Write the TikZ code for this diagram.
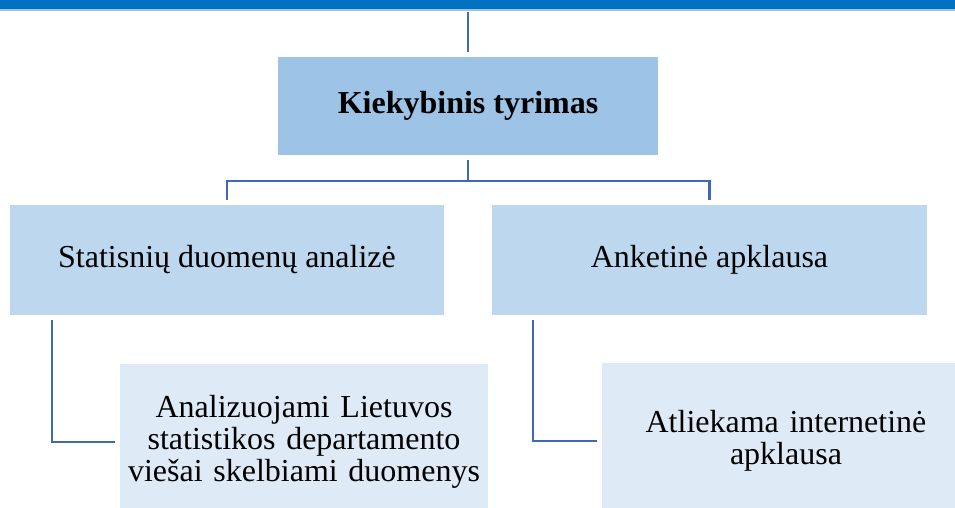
\documentclass[tikz,border=0pt]{standalone}
\usepackage{fontspec}
\setmainfont{Liberation Serif}
\definecolor{barblue}{HTML}{0070C0}
\definecolor{barlight}{HTML}{9DC3E6}
\definecolor{boxA}{HTML}{9DC3E6}
\definecolor{boxB}{HTML}{BDD7EE}
\definecolor{boxC}{HTML}{DEEBF7}
\definecolor{connblue}{HTML}{4068B8}
\tikzset{
  boxbase/.style={draw=none, inner sep=0pt, outer sep=3.75pt, align=center,
    font=\fontsize{24}{24}\selectfont},
  toplevel/.style={boxbase, fill=boxA, minimum width=285pt, minimum height=73.5pt, font=\fontsize{24}{24}\selectfont\bfseries},
  midlevel/.style={boxbase, fill=boxB, minimum height=82.5pt},
  lowlevel/.style={boxbase, fill=boxC, minimum width=276pt, minimum height=117pt, text width=270pt},
  conn/.style={draw=connblue, line width=2pt}
}
\begin{document}
\begin{tikzpicture}[x=0.75pt, y=-0.75pt]
\path[use as bounding box, clip] (0,0) rectangle (955,507);
\fill[white] (0,0) rectangle (955,507);
\fill[barblue] (0,0) rectangle (955,9);
\fill[barlight] (0,9) rectangle (955,10.5);

\node[toplevel] (top) at (468,106) {Kiekybinis tyrimas};
\node[midlevel, minimum width=325.5pt] (left) at (227,260) {Statisnių duomenų analizė};
\node[midlevel, minimum width=326.25pt] (right) at (709.5,260) {Anketinė apklausa};
\node[lowlevel] (subl) at (304,442) {Analizuojami Lietuvos\\statistikos departamento\\viešai skelbiami duomenys};
\node[lowlevel] (subr) at (786,441) {Atliekama internetinė\\apklausa};

\coordinate (up) at (468,12);
\coordinate (junc) at (468,181);
\draw[conn] (up) -- (top.north);
\draw[conn] (top.south) -- (junc);
\draw[conn] (left.north) -- (left.north |- junc) -- (right.north |- junc) -- (right.north);
\draw[conn] ([xshift=35.25pt]left.south west) |- (subl.west);
\draw[conn] ([xshift=34.5pt]right.south west) |- (subr.west);
\end{tikzpicture}
\end{document}
